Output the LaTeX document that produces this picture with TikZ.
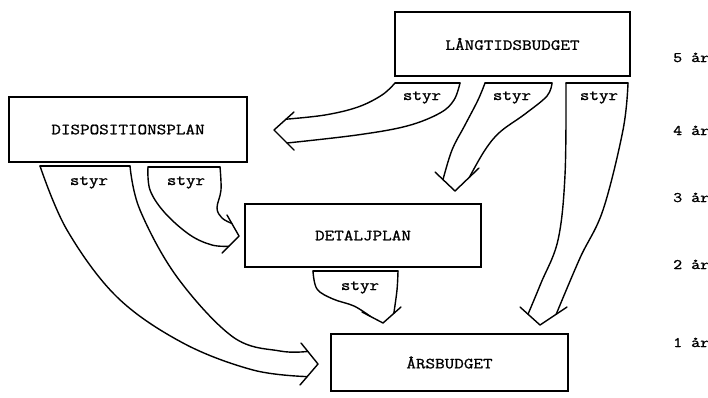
\documentclass[tikz,border=0pt]{standalone}
\usepackage{fontspec}
\newfontfamily\tw[FakeStretch=1.2, FakeBold=1.2]{Latin Modern Mono}
\usetikzlibrary{calc}
\begin{document}
\begin{tikzpicture}[x=1pt,y=-1pt,
  box/.style={draw, line width=1.3pt, rectangle, inner sep=0pt, font=\tw\fontsize{15.5}{15.5}\selectfont},
  lbl/.style={anchor=base, font=\tw\fontsize{15.5}{15.5}\selectfont, inner sep=0pt},
  yr/.style={anchor=base west, font=\tw\fontsize{14.5}{14.5}\selectfont, inner sep=0pt},
  fat/.style={line width=1.4pt, line join=round, line cap=round}]
\useasboundingbox (0,0) rectangle (708,397);

% boxes
\node[box, minimum width=235pt, minimum height=64pt] (lang) at (512.5,44) {LÅNGTIDSBUDGET};
\node[box, minimum width=238pt, minimum height=65pt] (disp) at (128,129.5) {DISPOSITIONSPLAN};
\node[box, minimum width=236pt, minimum height=63pt] (det) at (363,235.5) {DETALJPLAN};
\node[box, minimum width=237pt, minimum height=57pt] (ars) at (449.5,362.5) {ÅRSBUDGET};

% arrow 1: lang -> disp
\coordinate (t1) at (274,130); \coordinate (b1a) at (294,112); \coordinate (b1b) at (294,150);
\coordinate (s1a) at ($(b1a)!0.4!(t1)$); \coordinate (s1b) at ($(b1b)!0.35!(t1)$);
\draw[fat] (b1a) -- (t1) -- (b1b);
\draw[fat] plot[smooth, tension=0.6] coordinates {(395,83) (382,95) (358,107) (325,115) (s1a)};
\draw[fat] plot[smooth, tension=0.6] coordinates {(460,83) (454,100) (440,113) (407,126) (357,135) (s1b)};
\draw[fat] (395,83) -- (460,83);
\node[lbl] (st1) at (422,100) {styr};

% arrow 2: lang -> det
\coordinate (t2) at (455,191); \coordinate (b2a) at (435,172); \coordinate (b2b) at (479,168);
\coordinate (s2a) at ($(b2a)!0.4!(t2)$); \coordinate (s2b) at ($(b2b)!0.4!(t2)$);
\draw[fat] (b2a) -- (t2) -- (b2b);
\draw[fat] plot[smooth, tension=0.6] coordinates {(485,83) (478,100) (465,125) (452,150) (s2a)};
\draw[fat] plot[smooth, tension=0.6] coordinates {(552,83) (547,96) (525,114) (500,132) (485,150) (s2b)};
\draw[fat] (485,83) -- (552,83);
\node[lbl] (st2) at (512,100) {styr};

% arrow 3: lang -> ars
\coordinate (t3) at (540,325); \coordinate (b3a) at (520,307); \coordinate (b3b) at (567,307);
\coordinate (s3a) at ($(b3a)!0.4!(t3)$); \coordinate (s3b) at ($(b3b)!0.4!(t3)$);
\draw[fat] (b3a) -- (t3) -- (b3b);
\draw[fat] plot[smooth, tension=0.6] coordinates {(566,83) (565,175) (558,240) (541,283) (s3a)};
\draw[fat] plot[smooth, tension=0.6] coordinates {(628,83) (623,130) (603,210) (580,258) (s3b)};
\draw[fat] (566,83) -- (628,83);
\node[lbl] (st3) at (599,100) {styr};

% arrow 4: det -> ars
\coordinate (t4) at (383,323); \coordinate (b4a) at (362,312); \coordinate (b4b) at (401,307);
\coordinate (s4a) at ($(b4a)!0.4!(t4)$); \coordinate (s4b) at ($(b4b)!0.4!(t4)$);
\draw[fat] (b4a) -- (t4) -- (b4b);
\draw[fat] plot[smooth, tension=0.6] coordinates {(313,271) (317,289) (333,299) (354,306) (s4a)};
\draw[fat] plot[smooth, tension=0.6] coordinates {(398,271) (397,290) (s4b)};
\draw[fat] (313,271) -- (398,271);
\node[lbl] (st4) at (360,290) {styr};

% arrow 5: disp -> det
\coordinate (t5) at (239,236); \coordinate (b5a) at (227,215); \coordinate (b5b) at (222,253);
\coordinate (s5a) at ($(b5a)!0.4!(t5)$); \coordinate (s5b) at ($(b5b)!0.4!(t5)$);
\draw[fat] (b5a) -- (t5) -- (b5b);
\draw[fat] plot[smooth, tension=0.6] coordinates {(148,167) (150,190) (165,213) (190,235) (212,245) (s5b)};
\draw[fat] plot[smooth, tension=0.6] coordinates {(220,167) (221,190) (217,208) (222,218) (s5a)};
\draw[fat] (148,167) -- (220,167);
\node[lbl] (st5) at (186,185) {styr};

% arrow 6: disp -> ars
\coordinate (t6) at (318,364); \coordinate (b6a) at (301,343); \coordinate (b6b) at (300,385);
\coordinate (s6a) at ($(b6a)!0.4!(t6)$); \coordinate (s6b) at ($(b6b)!0.4!(t6)$);
\draw[fat] (b6a) -- (t6) -- (b6b);
\draw[fat] plot[smooth, tension=0.6] coordinates {(40,166) (67,230) (117,297) (183,343) (253,370) (s6b)};
\draw[fat] plot[smooth, tension=0.6] coordinates {(130,166) (140,210) (177,277) (233,337) (280,351) (s6a)};
\draw[fat] (40,166) -- (130,166);
\node[lbl] (st6) at (89,185) {styr};

% year labels
\node[yr] (y5) at (673,62) {5 år};
\node[yr] (y4) at (673,135) {4 år};
\node[yr] (y3) at (673,202) {3 år};
\node[yr] (y2) at (673,269) {2 år};
\node[yr] (y1) at (673,347) {1 år};
\end{tikzpicture}
\end{document}
